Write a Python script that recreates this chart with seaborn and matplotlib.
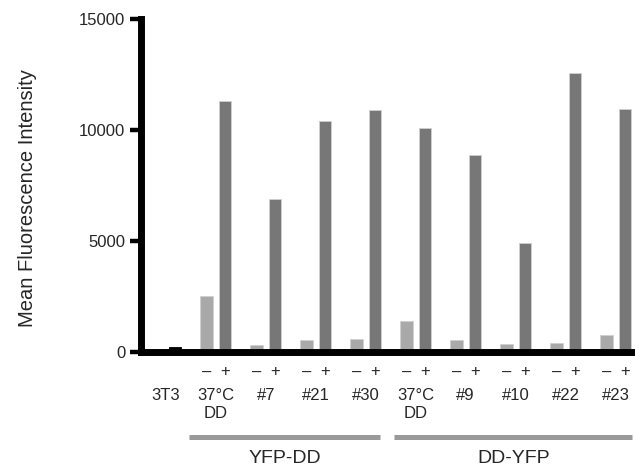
import numpy as np
import pandas as pd
import seaborn as sns
import matplotlib
matplotlib.use('Agg')
import matplotlib.pyplot as plt

# values
sample_ids = ['3T3', 'YFP-DD 37C', 'YFP-DD #7', 'YFP-DD #21', 'YFP-DD #30',
              'DD-YFP 37C', 'DD-YFP #9', 'DD-YFP #10', 'DD-YFP #22', 'DD-YFP #23']
tick_labels = ['3T3', '37°C\nDD', '#7', '#21', '#30',
               '37°C\nDD', '#9', '#10', '#22', '#23']
minus_vals = [np.nan, 2520, 300, 530, 600, 1420, 530, 360, 420, 770]
plus_vals = [220, 11300, 6880, 10400, 10930, 10090, 8900, 4920, 12600, 10940]
treatments = ['–', '+']
construct_names = ['YFP-DD', 'DD-YFP']
construct_spans = [(0.47, 4.29), (4.57, 9.33)]

rows = []
for ii in range(len(sample_ids)):
    rows.append({'sample': sample_ids[ii], 'treatment': '–', 'value': minus_vals[ii]})
    rows.append({'sample': sample_ids[ii], 'treatment': '+', 'value': plus_vals[ii]})
df = pd.DataFrame(rows).dropna()

sns.set_style('ticks')
plt.rcParams['font.family'] = ['Liberation Sans', 'DejaVu Sans']

fig = plt.figure(figsize=(6.35, 4.69), dpi=100)
ax = fig.add_axes([140.5 / 635, (469 - 352) / 469, (635 - 140.5) / 635, (352 - 19.3) / 469])

sns.barplot(data=df, x='sample', y='value', hue='treatment', order=sample_ids,
            hue_order=treatments, palette={'–': '#a9a9a9', '+': '#777777'},
            width=0.74, gap=0.33, edgecolor='#d0d0d0', linewidth=0.6,
            legend=False, ax=ax)

# the 3T3 control bar is drawn black
for p in ax.patches:
    if p.get_x() + p.get_width() / 2 < 0.5:
        p.set_facecolor('black')
        p.set_edgecolor('black')

ax.set_xlim(-0.504, 9.386)
ax.set_ylim(0, 15000)
ax.set_yticks([0, 5000, 10000, 15000])
ax.set_xticks(range(len(tick_labels)))
ax.set_xticklabels(tick_labels, fontsize=12)
ax.tick_params(axis='x', length=0, pad=26)
ax.tick_params(axis='y', length=8, width=3.2, pad=3, labelsize=12, color='black')

for side in ['top', 'right']:
    ax.spines[side].set_visible(False)
for side in ['left', 'bottom']:
    ax.spines[side].set_linewidth(5)
    ax.spines[side].set_color('black')
    ax.spines[side].set_capstyle('projecting')

ax.set_xlabel('')
ax.set_ylabel('Mean Fluorescence Intensity', fontsize=14.5)
ax.yaxis.set_label_coords(-0.21, 0.462)

trans = ax.get_xaxis_transform()
# – / + row under each sample (not for 3T3)
for ii in range(1, len(sample_ids)):
    ax.text(ii - 0.185, -0.06, '–', transform=trans, ha='center', va='center', fontsize=12)
    ax.text(ii + 0.185, -0.06, '+', transform=trans, ha='center', va='center', fontsize=12)

for name, (x0, x1) in zip(construct_names, construct_spans):
    ax.plot([x0, x1], [-0.2555, -0.2555], transform=trans, color='#999999',
            linewidth=3.6, solid_capstyle='butt', clip_on=False)
    ax.text((x0 + x1) / 2, -0.3216, name, transform=trans, ha='center', va='center',
            fontsize=14)

plt.savefig('out.png', dpi=100)
